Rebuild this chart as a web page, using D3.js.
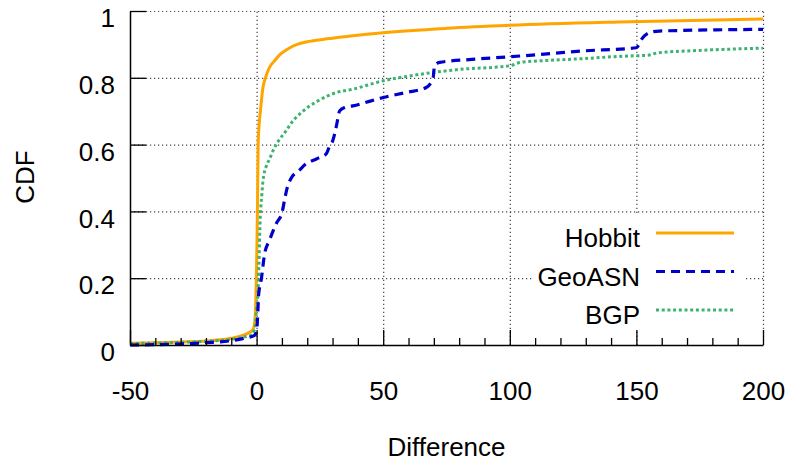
<!DOCTYPE html>
<html>
<head>
<meta charset="utf-8">
<script src="https://cdn.jsdelivr.net/npm/d3@7"></script>
<style>
  body { margin: 0; background: #fff; }
  svg text { font-family: 'Liberation Sans', Arial, sans-serif; fill: #000; }
</style>
</head>
<body>
<svg id="chart" width="791" height="461"></svg>
<script>
// values
const hobbitX = [-50, -40, -30, -20, -10, -5, -3, -1.5, -0.8, -0.4, -0.1, 0.2, 0.4, 0.6, 1, 1.5, 2.5, 3.5, 5, 7, 9, 12, 16, 20, 26, 37, 50, 75, 100, 143, 200];
const hobbitY = [0.005, 0.007, 0.009, 0.012, 0.02, 0.03, 0.037, 0.045, 0.066, 0.11, 0.2, 0.33, 0.45, 0.6, 0.66, 0.7, 0.77, 0.8, 0.83, 0.85, 0.868, 0.885, 0.9, 0.908, 0.915, 0.925, 0.935, 0.948, 0.957, 0.967, 0.976];

const geoX = [-50, -35, -20, -10, -5, -1, 0, 0.3, 0.5, 0.8, 1.8, 3.2, 5.1, 7.8, 10.1, 11, 12, 13.7, 16.7, 19.6, 23.6, 27.5, 28.8, 30.1, 31.5, 32.8, 34.8, 38, 50, 59, 67, 69.7, 70.3, 72.3, 85, 100, 117, 128, 150, 152, 155, 159, 200];
const geoY = [0.0, 0.002, 0.007, 0.013, 0.02, 0.028, 0.04, 0.07, 0.1, 0.15, 0.194, 0.274, 0.314, 0.364, 0.398, 0.433, 0.468, 0.5, 0.522, 0.543, 0.557, 0.572, 0.595, 0.612, 0.655, 0.701, 0.711, 0.716, 0.741, 0.756, 0.771, 0.8, 0.836, 0.846, 0.855, 0.863, 0.873, 0.88, 0.89, 0.915, 0.935, 0.94, 0.945];

const bgpX = [-50, -40, -30, -20, -10, -5, -2, -1.4, -0.4, -0.1, 0.5, 0.9, 1.45, 2.1, 2.5, 3.8, 5, 7, 9, 12, 13, 18.3, 23.6, 31.5, 38, 50, 60, 69.7, 80, 100, 104, 115, 128, 143, 150, 155, 158.6, 175, 200];
const bgpY = [0.004, 0.006, 0.008, 0.011, 0.017, 0.024, 0.03, 0.035, 0.065, 0.104, 0.144, 0.234, 0.383, 0.453, 0.49, 0.535, 0.555, 0.59, 0.615, 0.645, 0.657, 0.7, 0.728, 0.756, 0.766, 0.791, 0.805, 0.816, 0.825, 0.836, 0.846, 0.852, 0.857, 0.864, 0.866, 0.868, 0.875, 0.882, 0.889];

const seriesNames = ['Hobbit', 'GeoASN', 'BGP'];
const xTicks = [-50, 0, 50, 100, 150, 200];
const xMinorTicks = d3.range(-50, 201, 10);
const yTicks = [0, 0.2, 0.4, 0.6, 0.8, 1];

const styles = [
  { color: '#ffa500', width: 3, dash: null },
  { color: '#0000cc', width: 3.2, dash: '9,6' },
  { color: '#3cb371', width: 3, dash: '3,2.7' }
];

document.addEventListener('DOMContentLoaded', function () {
  drawChart();
});

const drawChart = function () {
  const svg = d3.select('#chart');
  const margin = { top: 11, right: 28, bottom: 116, left: 130 };
  const width = 791 - margin.left - margin.right;
  const height = 461 - margin.top - margin.bottom;
  const fontSize = 26;

  const x = d3.scaleLinear().domain([-50, 200]).range([0, width]);
  const y = d3.scaleLinear().domain([0, 1]).range([height, 0]);

  const g = svg.append('g').attr('transform', `translate(${margin.left},${margin.top})`);

  // grid
  const gridX = g.append('g').attr('transform', `translate(0,${height})`)
    .call(d3.axisBottom(x).tickValues(xTicks.slice(1)).tickSize(-height).tickFormat(''));
  const gridY = g.append('g')
    .call(d3.axisLeft(y).tickValues(yTicks.slice(1)).tickSize(-width).tickFormat(''));
  [gridX, gridY].forEach(function (grid) {
    grid.select('.domain').remove();
    grid.selectAll('line').attr('stroke', '#444').attr('stroke-width', 1.2).attr('stroke-dasharray', '1.2,2.8');
  });

  // curves
  const data = [
    hobbitX.map((v, i) => ({ x: v, y: hobbitY[i] })),
    geoX.map((v, i) => ({ x: v, y: geoY[i] })),
    bgpX.map((v, i) => ({ x: v, y: bgpY[i] }))
  ];
  const line = d3.line().x((p) => x(p.x)).y((p) => y(p.y)).curve(d3.curveMonotoneX);

  [0, 2, 1].forEach(function (i) {
    g.append('path')
      .attr('d', line(data[i]))
      .attr('fill', 'none')
      .attr('stroke', styles[i].color)
      .attr('stroke-width', styles[i].width)
      .attr('stroke-dasharray', styles[i].dash);
  });

  // axes
  const xAxis = g.append('g').attr('transform', `translate(0,${height})`)
    .call(d3.axisBottom(x).tickValues(xTicks).tickSizeInner(-15).tickSizeOuter(0).tickPadding(52).tickFormat((d) => String(d)));
  const xMinor = g.append('g').attr('transform', `translate(0,${height})`)
    .call(d3.axisBottom(x).tickValues(xMinorTicks.filter((t) => t % 50 !== 0)).tickSize(-7).tickFormat(''));
  xMinor.select('.domain').remove();
  const yAxis = g.append('g')
    .call(d3.axisLeft(y).tickValues(yTicks).tickSizeInner(-16).tickSizeOuter(0).tickPadding(15).tickFormat((d) => String(d)));

  [xAxis, xMinor, yAxis].forEach(function (axis) {
    axis.selectAll('line').attr('stroke', '#000').attr('stroke-width', 1.3);
    axis.select('.domain').attr('stroke', '#000').attr('stroke-width', 1.5);
    axis.selectAll('text').attr('font-size', fontSize).attr('font-family', null);
  });
  yAxis.selectAll('text').attr('dy', '0.6em');
  xAxis.selectAll('text').attr('dy', '0.1em');

  // axis titles
  svg.append('text')
    .attr('x', margin.left + width / 2)
    .attr('y', 456)
    .attr('text-anchor', 'middle')
    .attr('font-size', fontSize)
    .text('Difference');
  svg.append('text')
    .attr('transform', 'translate(34,177) rotate(-90)')
    .attr('text-anchor', 'middle')
    .attr('font-size', fontSize)
    .text('CDF');

  // legend, opaque box like gnuplot
  const legend = svg.append('g');
  legend.append('rect')
    .attr('x', 532).attr('y', 214).attr('width', 214).attr('height', 116)
    .attr('fill', '#fff');
  seriesNames.forEach(function (name, i) {
    const ly = 233 + i * 38.5;
    legend.append('text')
      .attr('x', 640).attr('y', ly + 14)
      .attr('text-anchor', 'end')
      .attr('font-size', fontSize)
      .text(name);
    legend.append('line')
      .attr('x1', 656).attr('x2', 734).attr('y1', ly).attr('y2', ly)
      .attr('stroke', styles[i].color)
      .attr('stroke-width', styles[i].width)
      .attr('stroke-dasharray', styles[i].dash);
  });
};
</script>
</body>
</html>
